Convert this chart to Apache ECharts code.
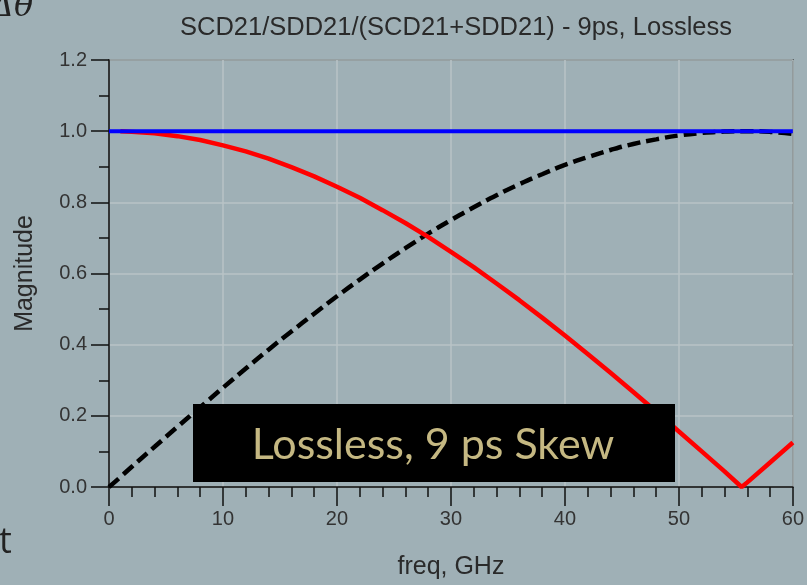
<!DOCTYPE html>
<html>
<head>
<meta charset="utf-8">
<script src="https://cdn.jsdelivr.net/npm/echarts@6/dist/echarts.min.js"></script>
<style>
    html, body { margin: 0; padding: 0; background: #9fb0b6; }
    #chart { width: 807px; height: 585px; }
</style>
</head>
<body>
<div id="chart"></div>
<script>
    // frequencies, GHz
    var freq = [0, 1, 2, 4, 6, 8, 10, 12, 14, 16, 18, 20, 22, 24, 26, 28, 30, 32, 34, 36, 38, 40,
        42, 44, 46, 48, 50, 52, 54, 55.5, 56, 58, 60];
    // SDD21 magnitude (red)
    var sdd21 = [1.000, 1.000, 0.998, 0.994, 0.986, 0.975, 0.960, 0.943, 0.923, 0.899, 0.873, 0.844,
        0.813, 0.778, 0.742, 0.703, 0.661, 0.618, 0.572, 0.525, 0.476, 0.426,
        0.374, 0.321, 0.267, 0.212, 0.156, 0.100, 0.044, 0.000, 0.013, 0.069, 0.125];
    // SCD21 magnitude (black dashed)
    var scd21 = [0.000, 0.028, 0.057, 0.113, 0.169, 0.224, 0.279, 0.333, 0.386, 0.437, 0.487, 0.536,
        0.583, 0.628, 0.671, 0.712, 0.750, 0.786, 0.820, 0.851, 0.879, 0.905,
        0.927, 0.947, 0.964, 0.977, 0.988, 0.995, 0.999, 1.000, 1.000, 0.998, 0.992];
    // SCD21+SDD21 normalised sum (blue)
    var total = [1, 1, 1, 1, 1, 1, 1, 1, 1, 1, 1, 1, 1, 1, 1, 1, 1, 1, 1, 1, 1, 1,
        1, 1, 1, 1, 1, 1, 1, 1, 1, 1, 1];

    function pairs(vals, from) {
        var out = [];
        for (var i = 0; i < freq.length; i++) {
            if (freq[i] >= (from || 0)) out.push([freq[i], vals[i]]);
        }
        return out;
    }

    var font = 'Liberation Sans, Arial, sans-serif';
    var chart = echarts.init(document.getElementById('chart'));
    chart.setOption({
        backgroundColor: '#9fb0b6',
        animation: false,
        title: {
            text: 'SCD21/SDD21/(SCD21+SDD21) - 9ps, Lossless',
            left: 451,
            top: 10,
            textAlign: 'center',
            textStyle: { fontFamily: font, fontSize: 25.5, fontWeight: 'normal', color: '#2a2a2a' }
        },
        grid: {
            left: 109, right: 14, top: 60, bottom: 93,
            show: true,
            backgroundColor: 'transparent',
            borderColor: '#111',
            borderWidth: 1.5
        },
        xAxis: {
            type: 'value',
            min: 0, max: 60, interval: 10,
            name: 'freq, GHz',
            nameLocation: 'middle',
            nameGap: 68,
            nameTextStyle: { fontFamily: font, fontSize: 25, color: '#2a2a2a' },
            axisLine: { lineStyle: { color: '#111', width: 1.5 } },
            axisTick: { length: 19, lineStyle: { color: '#111', width: 1.5 } },
            minorTick: { show: true, splitNumber: 5, length: 10, lineStyle: { color: '#111', width: 1.5 } },
            axisLabel: { margin: 22, fontFamily: font, fontSize: 20, color: '#333' },
            splitLine: { show: true, lineStyle: { color: '#b9c3c6', width: 1.5 } }
        },
        yAxis: {
            type: 'value',
            min: 0, max: 1.2, interval: 0.2,
            name: 'Magnitude',
            nameLocation: 'middle',
            nameGap: 71,
            nameTextStyle: { fontFamily: font, fontSize: 25, color: '#2a2a2a' },
            axisLine: { show: true, lineStyle: { color: '#111', width: 1.5 } },
            axisTick: { show: true, length: 18, lineStyle: { color: '#111', width: 1.5 } },
            minorTick: { show: true, splitNumber: 2, length: 10, lineStyle: { color: '#111', width: 1.5 } },
            axisLabel: {
                margin: 22, fontFamily: font, fontSize: 20, color: '#333',
                formatter: function (v) { return v.toFixed(1); }
            },
            splitLine: { show: true, lineStyle: { color: '#b9c3c6', width: 1.5 } }
        },
        series: [{
            name: 'SCD21',
            type: 'line',
            data: pairs(scd21),
            showSymbol: false,
            smooth: true,
            lineStyle: { color: '#000', width: 4.5, type: [13, 6] },
            z: 3
        }, {
            name: 'SDD21',
            type: 'line',
            data: pairs(sdd21, 1),
            showSymbol: false,
            lineStyle: { color: '#ff0000', width: 4.5 },
            z: 4
        }, {
            name: 'sum',
            type: 'line',
            data: pairs(total),
            showSymbol: false,
            lineStyle: { color: '#0000ff', width: 4 },
            z: 5
        }],
        graphic: [{
            type: 'rect',
            shape: { x: 193, y: 404, width: 482, height: 78 },
            style: { fill: '#000' },
            z: 100
        }, {
            type: 'text',
            x: 433,
            y: 445,
            style: {
                text: 'Lossless, 9 ps Skew',
                fontFamily: 'Lato, Open Sans, sans-serif',
                fontSize: 43,
                fill: '#c5b882',
                align: 'center',
                verticalAlign: 'middle'
            },
            z: 101
        }, {
            type: 'text',
            x: -9,
            y: -8,
            style: { text: 'Δθ', fontFamily: 'DejaVu Serif, serif', fontStyle: 'italic', fontSize: 32, fill: '#222' }
        }, {
            type: 'text',
            x: -1,
            y: 525,
            style: { text: 't', fontFamily: 'Open Sans, sans-serif', fontSize: 36, fill: '#222' }
        }]
    });
</script>
</body>
</html>
